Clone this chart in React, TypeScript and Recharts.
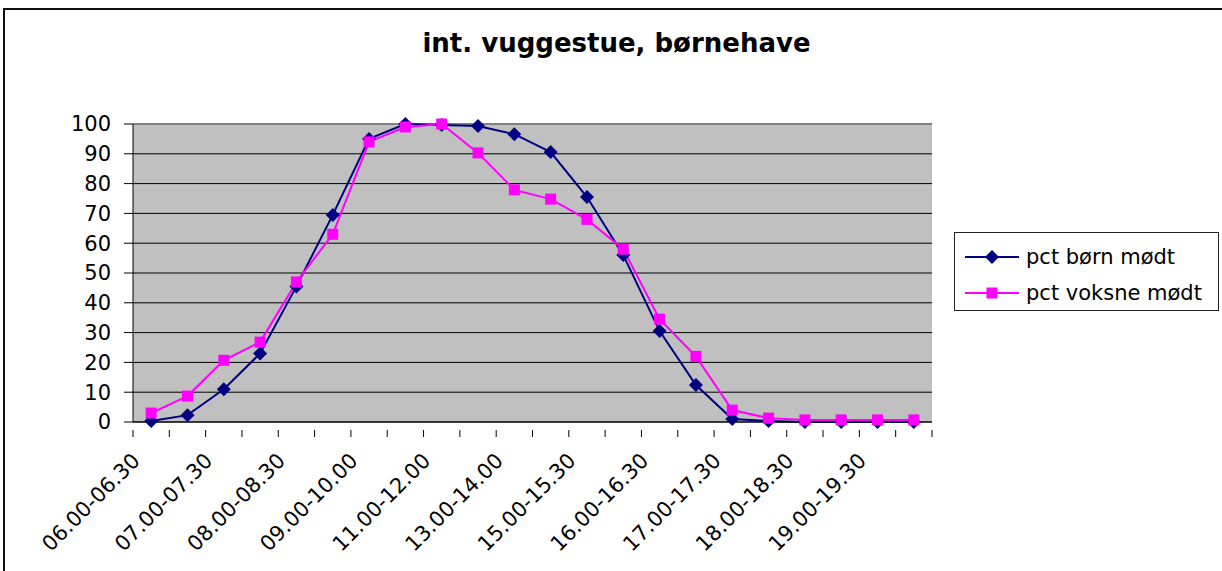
import { LineChart, Line, XAxis, YAxis, CartesianGrid, ReferenceLine } from "recharts";

const categories = [
  "06.00-06.30", "06.30-07.00", "07.00-07.30", "07.30-08.00", "08.00-08.30", "08.30-09.00",
  "09.00-10.00", "10.00-11.00", "11.00-12.00", "12.00-13.00", "13.00-14.00", "14.00-15.00",
  "15.00-15.30", "15.30-16.00", "16.00-16.30", "16.30-17.00", "17.00-17.30", "17.30-18.00",
  "18.00-18.30", "18.30-19.00", "19.00-19.30", "19.30-20.00",
];
const bornValues = [0.3, 2.3, 11, 23, 45.5, 69.5, 95, 100, 99.7, 99.3, 96.6, 90.6, 75.5, 56, 30.5, 12.4, 1, 0.3, 0, 0, 0, 0];
const voksneValues = [3, 8.7, 20.7, 26.8, 47, 63, 94, 99, 100, 90.3, 77.9, 74.8, 68, 58, 34.5, 22, 4, 1.3, 0.7, 0.7, 0.7, 0.7];
const yTicks = [0, 10, 20, 30, 40, 50, 60, 70, 80, 90, 100];
const seriesNames = ["pct børn mødt", "pct voksne mødt"];

const BORN = "#000080";
const VOKSNE = "#FF00FF";
const FONT = "'DejaVu Sans', sans-serif";

const data = categories.map((c, i) => ({ cat: c, born: bornValues[i], voksne: voksneValues[i] }));

const PLOT_LEFT = 133;
const PLOT_RIGHT = 932;
const BAND = (PLOT_RIGHT - PLOT_LEFT) / categories.length;

function Diamond(props: any) {
  const { cx, cy } = props;
  if (cx == null || cy == null) return null;
  return <polygon points={`${cx},${cy - 7} ${cx + 7},${cy} ${cx},${cy + 7} ${cx - 7},${cy}`} fill={BORN} />;
}

function Square(props: any) {
  const { cx, cy } = props;
  if (cx == null || cy == null) return null;
  return <rect x={cx - 5.5} y={cy - 5.5} width={11} height={11} fill={VOKSNE} />;
}

function XTick(props: any) {
  const { x, y, payload, index } = props;
  const left = x - BAND / 2;
  const tx = x - 10;
  const ty = y + 32;
  return (
    <g>
      <line x1={left} y1={y} x2={left} y2={y + 7} stroke="#000" />
      {index === categories.length - 1 && (
        <line x1={left + BAND} y1={y} x2={left + BAND} y2={y + 7} stroke="#000" />
      )}
      {index % 2 === 0 && (
        <text
          x={tx}
          y={ty}
          textAnchor="end"
          transform={`rotate(-45, ${tx}, ${ty})`}
          fontFamily={FONT}
          fontSize={21}
          fill="#000"
        >
          {payload.value}
        </text>
      )}
    </g>
  );
}

function LegendBox() {
  const rows = [
    { label: seriesNames[0], color: BORN, marker: "diamond" },
    { label: seriesNames[1], color: VOKSNE, marker: "square" },
  ];
  return (
    <div
      style={{
        position: "absolute",
        left: 954,
        top: 232,
        width: 265,
        height: 79,
        border: "1px solid #222",
        background: "#fff",
        boxSizing: "border-box",
        paddingTop: 6,
      }}
    >
      {rows.map((r) => (
        <div key={r.label} style={{ display: "flex", alignItems: "center", height: 36 }}>
          <svg width={70} height={20} style={{ marginLeft: 8 }}>
            <line x1={2} y1={10} x2={56} y2={10} stroke={r.color} strokeWidth={2} />
            {r.marker === "diamond" ? (
              <polygon points="29,3 36,10 29,17 22,10" fill={r.color} />
            ) : (
              <rect x={23.5} y={4.5} width={11} height={11} fill={r.color} />
            )}
          </svg>
          <span style={{ fontFamily: FONT, fontSize: 21, color: "#000", marginLeft: -7, whiteSpace: "nowrap" }}>
            {r.label}
          </span>
        </div>
      ))}
    </div>
  );
}

export default function App() {
  return (
    <div style={{ position: "fixed", left: 0, top: 0, width: 1222, height: 571, overflow: "hidden", background: "#fff" }}>
      <div
        style={{
          position: "absolute",
          left: 3,
          top: 8,
          width: 1240,
          height: 600,
          border: "2px solid #111",
        }}
      />
      <div
        style={{
          position: "absolute",
          left: 0,
          width: 1233,
          top: 28,
          textAlign: "center",
          fontFamily: FONT,
          fontWeight: "bold",
          fontSize: 26,
          color: "#000",
        }}
      >
        int. vuggestue, børnehave
      </div>
      <div style={{ position: "absolute", left: 0, top: 0 }}>
        <LineChart
          width={1222}
          height={571}
          data={data}
          margin={{ top: 124, right: 1222 - PLOT_RIGHT, bottom: 0, left: 0 }}
        >
          <CartesianGrid fill="#C0C0C0" fillOpacity={1} vertical={false} stroke="#000" horizontalValues={yTicks} />
          <XAxis
            dataKey="cat"
            scale="band"
            interval={0}
            height={149}
            axisLine={{ stroke: "#000" }}
            tickLine={false}
            tick={<XTick />}
          />
          <YAxis
            domain={[0, 100]}
            ticks={yTicks}
            interval={0}
            width={PLOT_LEFT}
            tickSize={9}
            tickMargin={13}
            axisLine={{ stroke: "#000" }}
            tickLine={{ stroke: "#000" }}
            tick={{ fill: "#000", fontSize: 21, fontFamily: FONT }}
          />
          <YAxis yAxisId="right" orientation="right" domain={[0, 100]} width={0} tick={false} axisLine={{ stroke: "#808080" }} tickLine={false} />
          <ReferenceLine y={100} stroke="#808080" strokeWidth={2} />
          <Line
            dataKey="born"
            name={seriesNames[0]}
            stroke={BORN}
            strokeWidth={2}
            dot={<Diamond />}
            activeDot={false}
            isAnimationActive={false}
          />
          <Line
            dataKey="voksne"
            name={seriesNames[1]}
            stroke={VOKSNE}
            strokeWidth={2}
            dot={<Square />}
            activeDot={false}
            isAnimationActive={false}
          />
        </LineChart>
      </div>
      <LegendBox />
    </div>
  );
}
